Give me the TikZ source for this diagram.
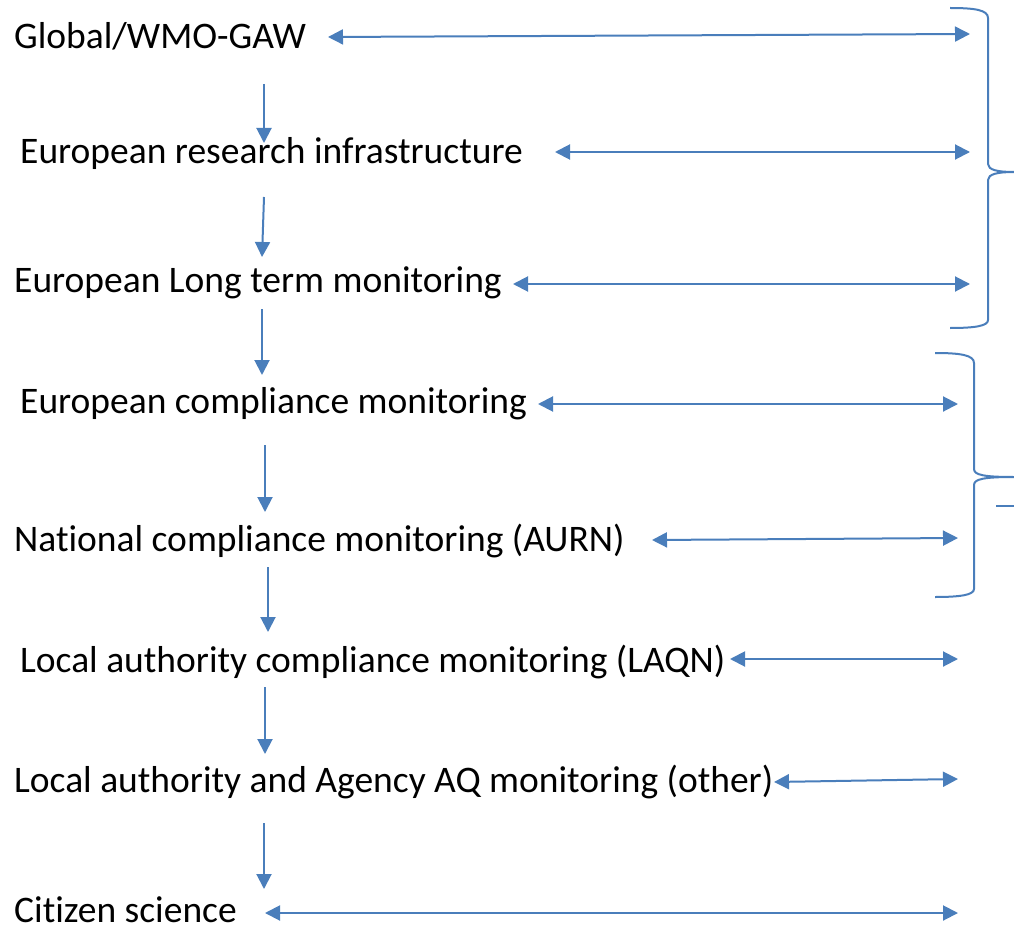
\documentclass[tikz,border=0pt]{standalone}
\usepackage{fontspec}
\setmainfont[Ligatures={NoCommon}]{Carlito}
\usetikzlibrary{arrows.meta}
\definecolor{lineblue}{HTML}{4A7EBB}
\tikzset{
  lbl/.style={anchor=base west, inner sep=0pt, font=\fontsize{37.5}{44}\selectfont, text=black},
  link/.style={draw=lineblue, line width=2pt, -{Triangle[length=15pt,width=15pt]}},
  both/.style={draw=lineblue, line width=2pt, {Triangle[length=15pt,width=15pt]}-{Triangle[length=15pt,width=15pt]}},
  brace/.style={draw=lineblue, line width=2pt}
}
\begin{document}
\begin{tikzpicture}[x=1pt,y=-1pt]
\useasboundingbox (0,0) rectangle (1014,928);
% labels
\node[lbl] (t1) at (14,49) {Global/WMO-GAW};
\node[lbl] (t2) at (20,164) {European research infrastructure};
\node[lbl] (t3) at (14,292) {European Long term monitoring};
\node[lbl] (t4) at (20,413) {European compliance monitoring};
\node[lbl] (t5) at (14,551) {National compliance monitoring (AURN)};
\node[lbl] (t6) at (20,672) {Local authority compliance monitoring (LAQN)};
\node[lbl] (t7) at (14,792) {Local authority and Agency AQ monitoring (other)};
\node[lbl] (t8) at (14,922) {Citizen science};
% horizontal arrow ends
\coordinate (h1a) at (328,37);  \coordinate (h1b) at (970,34);
\coordinate (h2a) at (555,152); \coordinate (h2b) at (970,152);
\coordinate (h3a) at (513,284); \coordinate (h3b) at (970,284);
\coordinate (h4a) at (538,404); \coordinate (h4b) at (958,404);
\coordinate (h5a) at (652,540); \coordinate (h5b) at (958,538);
\coordinate (h6a) at (730,659); \coordinate (h6b) at (958,659);
\coordinate (h7a) at (774,782); \coordinate (h7b) at (958,779);
\coordinate (h8a) at (265,913); \coordinate (h8b) at (958,913);
\foreach \i in {1,...,8} { \draw[both] (h\i a) -- (h\i b); }
% vertical arrow ends
\coordinate (v1a) at (264,84);  \coordinate (v1b) at (264,143);
\coordinate (v2a) at (264,197); \coordinate (v2b) at (262,257);
\coordinate (v3a) at (262,309); \coordinate (v3b) at (262,375);
\coordinate (v4a) at (265,445); \coordinate (v4b) at (265,512);
\coordinate (v5a) at (268,567); \coordinate (v5b) at (268,632);
\coordinate (v6a) at (265,687); \coordinate (v6b) at (265,754);
\coordinate (v7a) at (264,823); \coordinate (v7b) at (264,889);
\foreach \i in {1,...,7} { \draw[link] (v\i a) -- (v\i b); }
% braces
\coordinate (b1top) at (950,8);
\coordinate (b1tip) at (1014,172);
\coordinate (b1bot) at (950,328);
\draw[brace] (b1top) .. controls (975,8) and (988,10) .. (988,18) -- (988,164)
  .. controls (988,170) and (998,172) .. (b1tip)
  .. controls (998,172) and (988,174) .. (988,180) -- (988,320)
  .. controls (988,326) and (975,328) .. (b1bot);
\coordinate (b2top) at (935,353);
\coordinate (b2tip) at (1014,477);
\coordinate (b2bot) at (935,597);
\draw[brace] (b2top) .. controls (960,353) and (974,355) .. (974,363) -- (974,469)
  .. controls (974,475) and (984,477) .. (b2tip)
  .. controls (984,477) and (974,479) .. (974,485) -- (974,589)
  .. controls (974,595) and (960,597) .. (b2bot);
\coordinate (s1) at (996,506); \coordinate (s2) at (1014,506);
\draw[draw=lineblue, line width=1.2pt] (s1) -- (s2);
\end{tikzpicture}
\end{document}
